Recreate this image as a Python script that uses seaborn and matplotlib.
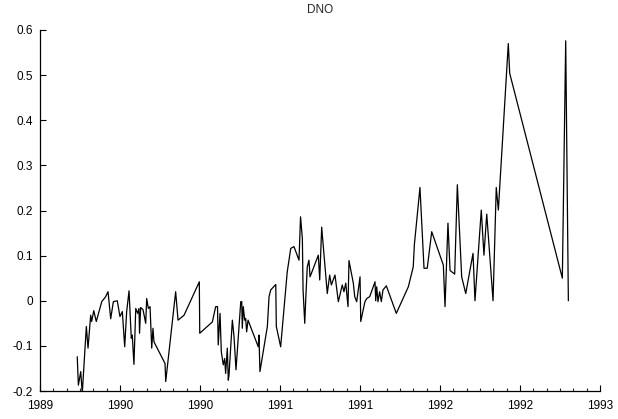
import numpy as np
import pandas as pd
import matplotlib
matplotlib.use("Agg")
import matplotlib.pyplot as plt
import seaborn as sns
from matplotlib.ticker import FuncFormatter, AutoMinorLocator

# decimal year and DNO value
years = [
    1989.266, 1989.274, 1989.291, 1989.302, 1989.331, 1989.343, 1989.362, 1989.369,
    1989.384, 1989.402, 1989.441, 1989.469, 1989.486, 1989.505, 1989.524, 1989.552,
    1989.571, 1989.588, 1989.605, 1989.619, 1989.636, 1989.652, 1989.659, 1989.671,
    1989.684, 1989.698, 1989.707, 1989.711, 1989.719, 1989.736, 1989.755, 1989.762,
    1989.774, 1989.786, 1989.798, 1989.807, 1989.814, 1989.893, 1989.898, 1989.969,
    1989.986, 1990.029, 1990.138, 1990.141, 1990.231, 1990.255, 1990.268, 1990.273,
    1990.286, 1990.295, 1990.309, 1990.319, 1990.326, 1990.338, 1990.345, 1990.350,
    1990.374, 1990.386, 1990.400, 1990.434, 1990.441, 1990.445, 1990.452, 1990.462,
    1990.469, 1990.476, 1990.486, 1990.559, 1990.564, 1990.571, 1990.624, 1990.636,
    1990.648, 1990.684, 1990.688, 1990.719, 1990.766, 1990.791, 1990.814, 1990.850,
    1990.861, 1990.874, 1990.879, 1990.891, 1990.898, 1990.909, 1990.921, 1990.929,
    1990.988, 1990.998, 1991.012, 1991.052, 1991.069, 1991.081, 1991.107, 1991.131,
    1991.159, 1991.171, 1991.184, 1991.200, 1991.207, 1991.238, 1991.248, 1991.262,
    1991.286, 1991.291, 1991.321, 1991.334, 1991.355, 1991.393, 1991.398, 1991.405,
    1991.414, 1991.426, 1991.438, 1991.450, 1991.474, 1991.545, 1991.631, 1991.666,
    1991.674, 1991.714, 1991.743, 1991.766, 1991.798, 1991.881, 1991.893, 1991.914,
    1991.929, 1991.962, 1991.981, 1992.012, 1992.041, 1992.093, 1992.107, 1992.152,
    1992.171, 1992.191, 1992.236, 1992.259, 1992.274, 1992.345, 1992.355, 1992.731,
    1992.755, 1992.774,
]
dno = [
    -0.124, -0.187, -0.157, -0.205, -0.057, -0.105, -0.032, -0.046,
    -0.022, -0.046, -0.002, 0.009, 0.020, -0.040, -0.002, 0.000,
    -0.035, -0.024, -0.102, -0.024, 0.022, -0.083, -0.076, -0.141,
    -0.017, -0.028, -0.017, -0.072, -0.015, -0.020, -0.050, 0.005,
    -0.017, -0.013, -0.105, -0.061, -0.091, -0.139, -0.179, 0.020,
    -0.043, -0.032, 0.042, -0.072, -0.047, -0.013, -0.013, -0.098,
    -0.028, -0.113, -0.142, -0.128, -0.161, -0.105, -0.176, -0.165,
    -0.043, -0.080, -0.153, -0.002, -0.002, -0.061, -0.013, -0.043,
    -0.039, -0.069, -0.043, -0.102, -0.076, -0.157, -0.057, 0.009,
    0.024, 0.036, -0.057, -0.102, 0.064, 0.116, 0.120, 0.090,
    0.186, 0.138, 0.024, -0.050, 0.002, 0.075, 0.090, 0.053,
    0.101, 0.046, 0.163, 0.016, 0.057, 0.035, 0.057, -0.002,
    0.035, 0.020, 0.039, -0.013, 0.089, 0.039, 0.009, -0.002,
    0.053, -0.046, -0.002, 0.005, 0.009, 0.042, 0.000, 0.031,
    -0.002, 0.020, -0.002, 0.024, 0.033, -0.028, 0.031, 0.075,
    0.124, 0.251, 0.072, 0.072, 0.153, 0.079, -0.013, 0.172,
    0.067, 0.059, 0.257, 0.053, 0.016, 0.105, 0.000, 0.201,
    0.101, 0.192, 0.000, 0.251, 0.201, 0.570, 0.504, 0.050,
    0.576, 0.000,
]

x_ticks = np.linspace(1989, 1993, 8)
y_ticks = np.arange(-0.2, 0.61, 0.1)

sns.set_style("ticks")
plt.rcParams["font.family"] = ["Liberation Sans", "DejaVu Sans"]
plt.rcParams["axes.unicode_minus"] = False

df = pd.DataFrame({"year": years, "DNO": dno})

fig = plt.figure(figsize=(6.18, 4.19), dpi=100)
ax = fig.add_axes([40 / 618, 1 - 391 / 419, 560 / 618, 361 / 419])

sns.lineplot(data=df, x="year", y="DNO", ax=ax, color="black",
             linewidth=0.9, estimator=None, sort=False)

ax.set_xlim(1989, 1993)
ax.set_ylim(-0.2, 0.6)
ax.set_xticks(x_ticks)
ax.xaxis.set_major_formatter(FuncFormatter(lambda v, p: f"{v:.0f}"))
ax.xaxis.set_minor_locator(AutoMinorLocator(6))
ax.set_yticks(y_ticks)
ax.yaxis.set_major_formatter(FuncFormatter(lambda v, p: f"{round(v, 1):g}"))

ax.tick_params(axis="both", which="major", direction="in", length=4,
               width=0.8, labelsize=8.5, colors="black")
ax.tick_params(axis="y", which="major", pad=5)
ax.tick_params(axis="x", which="major", pad=6.5)
ax.tick_params(axis="x", which="minor", direction="in", length=2.5, width=0.8)
ax.set_xlabel("")
ax.set_ylabel("")
ax.set_title("DNO", fontsize=8.5, pad=12)

sns.despine(ax=ax)
for s in ["left", "bottom"]:
    ax.spines[s].set_linewidth(0.9)
    ax.spines[s].set_color("black")

fig.savefig("out.png", dpi=100)
plt.close(fig)
